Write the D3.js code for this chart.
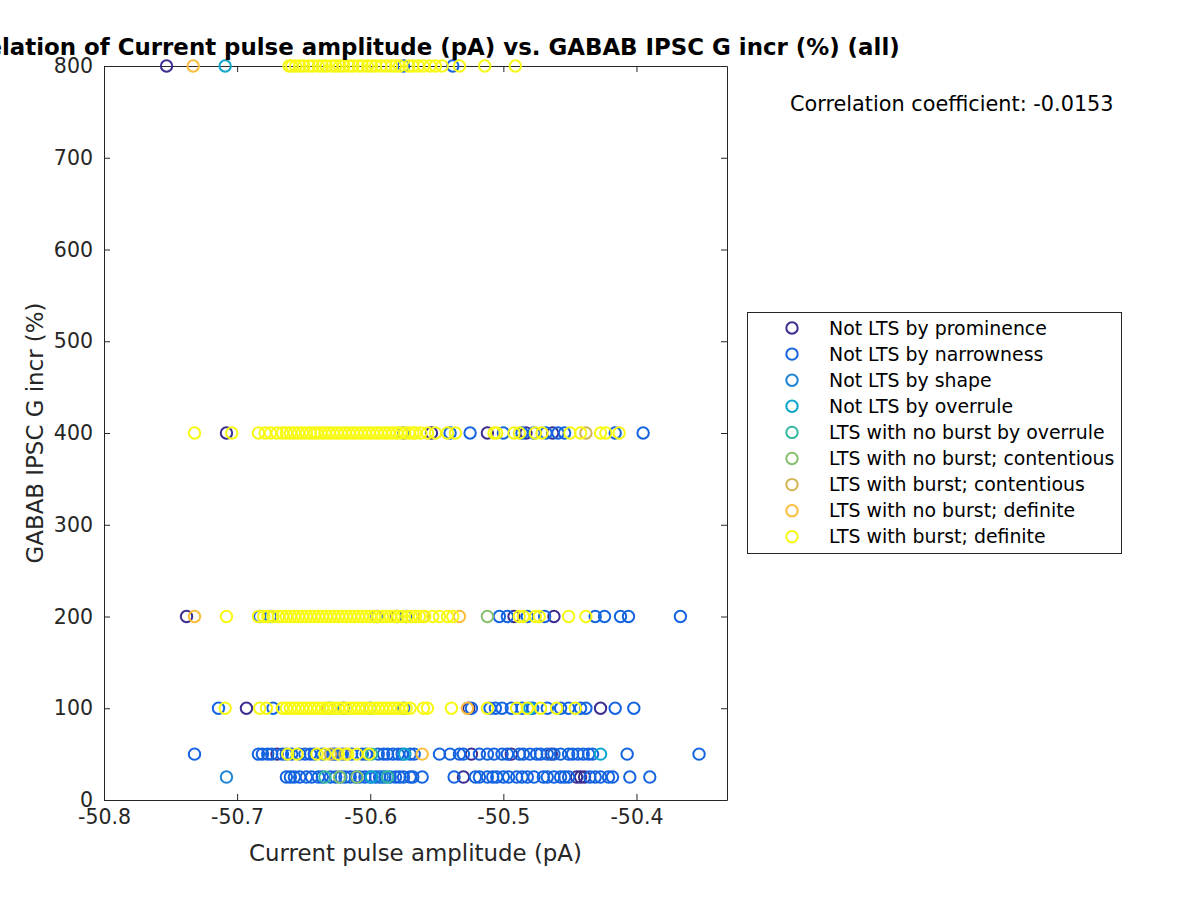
<!DOCTYPE html>
<html>
<head>
<meta charset="utf-8">
<script src="https://cdn.jsdelivr.net/npm/d3@7"></script>
<style>
  html, body { margin: 0; padding: 0; background: #fff; }
  svg { display: block; font-family: "DejaVu Sans", sans-serif; }
</style>
</head>
<body>
<svg id="chart" width="1200" height="900"></svg>
<script>
// ---------------- DATA ----------------
const titleText = "Correlation of Current pulse amplitude (pA) vs. GABAB IPSC G incr (%) (all)";
const xLabel = "Current pulse amplitude (pA)";
const yLabel = "GABAB IPSC G incr (%)";
const corrText = "Correlation coefficient: -0.0153";

const xTicks = [-50.8, -50.7, -50.6, -50.5, -50.4];
const yTicks = [0, 100, 200, 300, 400, 500, 600, 700, 800];
const xDomain = [-50.8, -50.332];
const yDomain = [0, 800];

const seriesNames = [
  "Not LTS by prominence",
  "Not LTS by narrowness",
  "Not LTS by shape",
  "Not LTS by overrule",
  "LTS with no burst by overrule",
  "LTS with no burst; contentious",
  "LTS with burst; contentious",
  "LTS with no burst; definite",
  "LTS with burst; definite"
];
const seriesColors = ["#3a2d90", "#1464e0", "#1d84d5", "#0ea6cc", "#33b79e", "#86bf6e", "#d2b455", "#fbbd3c", "#f7f914"];

// [x, y] pairs per series
const prominence = [
  [-50.753, 800],
  [-50.708, 400], [-50.554, 400], [-50.512, 400], [-50.483, 400], [-50.463, 400],
  [-50.738, 200], [-50.492, 200], [-50.462, 200], [-50.580, 200],
  [-50.693, 100], [-50.526, 100], [-50.427, 100],
  [-50.670, 50], [-50.524, 50], [-50.494, 50], [-50.464, 50],
  [-50.530, 25], [-50.445, 25], [-50.442, 25], [-50.439, 25]
];

const narrowness = [
  [-50.575, 800], [-50.538, 800],
  [-50.575, 400], [-50.540, 400], [-50.525, 400], [-50.500, 400], [-50.486, 400], [-50.477, 400],
  [-50.468, 400], [-50.459, 400], [-50.454, 400], [-50.416, 400], [-50.395, 400],
  [-50.683, 200], [-50.675, 200], [-50.595, 200], [-50.573, 200], [-50.503, 200], [-50.497, 200],
  [-50.482, 200], [-50.469, 200], [-50.431, 200], [-50.424, 200], [-50.412, 200], [-50.406, 200], [-50.367, 200],
  [-50.714, 100], [-50.673, 100], [-50.620, 100], [-50.600, 100], [-50.575, 100], [-50.524, 100], [-50.510, 100],
  [-50.506, 100], [-50.501, 100], [-50.494, 100], [-50.486, 100], [-50.478, 100], [-50.467, 100], [-50.457, 100],
  [-50.451, 100], [-50.442, 100], [-50.438, 100], [-50.416, 100], [-50.402, 100],
  [-50.732, 50], [-50.684, 50], [-50.681, 50], [-50.677, 50], [-50.674, 50], [-50.666, 50], [-50.663, 50],
  [-50.659, 50], [-50.653, 50], [-50.649, 50], [-50.645, 50], [-50.642, 50], [-50.636, 50], [-50.628, 50],
  [-50.626, 50], [-50.621, 50], [-50.614, 50], [-50.606, 50], [-50.603, 50], [-50.594, 50], [-50.590, 50],
  [-50.587, 50], [-50.583, 50], [-50.579, 50], [-50.576, 50], [-50.570, 50], [-50.567, 50], [-50.548, 50],
  [-50.540, 50], [-50.533, 50], [-50.530, 50], [-50.518, 50], [-50.512, 50], [-50.507, 50], [-50.501, 50],
  [-50.497, 50], [-50.488, 50], [-50.485, 50], [-50.480, 50], [-50.475, 50], [-50.472, 50], [-50.467, 50],
  [-50.462, 50], [-50.457, 50], [-50.451, 50], [-50.448, 50], [-50.444, 50], [-50.440, 50], [-50.436, 50],
  [-50.433, 50], [-50.407, 50], [-50.353, 50],
  [-50.663, 25], [-50.660, 25], [-50.657, 25], [-50.653, 25], [-50.648, 25], [-50.644, 25], [-50.639, 25],
  [-50.636, 25], [-50.630, 25], [-50.626, 25], [-50.619, 25], [-50.615, 25], [-50.611, 25], [-50.608, 25],
  [-50.604, 25], [-50.600, 25], [-50.596, 25], [-50.593, 25], [-50.589, 25], [-50.585, 25], [-50.581, 25],
  [-50.578, 25], [-50.575, 25], [-50.570, 25], [-50.568, 25], [-50.561, 25], [-50.537, 25], [-50.521, 25],
  [-50.518, 25], [-50.512, 25], [-50.508, 25], [-50.505, 25], [-50.500, 25], [-50.496, 25], [-50.490, 25],
  [-50.486, 25], [-50.482, 25], [-50.477, 25], [-50.470, 25], [-50.467, 25], [-50.462, 25], [-50.457, 25],
  [-50.454, 25], [-50.451, 25], [-50.435, 25], [-50.431, 25], [-50.427, 25], [-50.421, 25], [-50.418, 25],
  [-50.405, 25], [-50.390, 25]
];

const shape = [
  [-50.708, 25], [-50.622, 25], [-50.591, 25]
];

const notOverrule = [
  [-50.709, 800],
  [-50.480, 100],
  [-50.574, 50], [-50.427, 50],
  [-50.599, 25]
];

const ltsNoBurstOverrule = [
  [-50.630, 100],
  [-50.599, 50],
  [-50.634, 25], [-50.587, 25]
];

const ltsNoBurstContentious = [
  [-50.512, 200],
  [-50.623, 25], [-50.610, 25]
];

const ltsBurstContentious = [
  [-50.438, 400],
  [-50.560, 200],
  [-50.632, 100],
  [-50.630, 50], [-50.619, 50]
];

const ltsNoBurstDefinite = [
  [-50.733, 800],
  [-50.732, 200], [-50.533, 200],
  [-50.527, 100],
  [-50.561, 50]
];

const ltsBurstDefinite = [
  [-50.661, 800], [-50.659, 800], [-50.656, 800], [-50.653, 800], [-50.650, 800], [-50.646, 800], [-50.643, 800],
  [-50.639, 800], [-50.636, 800], [-50.633, 800], [-50.629, 800], [-50.626, 800], [-50.623, 800], [-50.620, 800],
  [-50.616, 800], [-50.613, 800], [-50.609, 800], [-50.606, 800], [-50.602, 800], [-50.599, 800], [-50.596, 800],
  [-50.592, 800], [-50.588, 800], [-50.584, 800], [-50.581, 800], [-50.578, 800], [-50.571, 800], [-50.568, 800],
  [-50.564, 800], [-50.560, 800], [-50.555, 800], [-50.551, 800], [-50.546, 800], [-50.533, 800], [-50.514, 800],
  [-50.491, 800],
  [-50.732, 400], [-50.704, 400],
  [-50.684, 400], [-50.679, 400], [-50.675, 400], [-50.670, 400], [-50.666, 400], [-50.663, 400], [-50.660, 400],
  [-50.657, 400], [-50.654, 400], [-50.651, 400], [-50.648, 400], [-50.645, 400], [-50.642, 400], [-50.640, 400],
  [-50.637, 400], [-50.634, 400], [-50.631, 400], [-50.628, 400], [-50.625, 400], [-50.622, 400], [-50.619, 400],
  [-50.616, 400], [-50.613, 400], [-50.610, 400], [-50.607, 400], [-50.604, 400], [-50.601, 400], [-50.598, 400],
  [-50.595, 400], [-50.592, 400], [-50.589, 400], [-50.586, 400], [-50.583, 400], [-50.580, 400], [-50.577, 400],
  [-50.574, 400], [-50.571, 400], [-50.568, 400], [-50.566, 400],
  [-50.562, 400], [-50.557, 400], [-50.551, 400], [-50.542, 400], [-50.536, 400], [-50.507, 400], [-50.505, 400],
  [-50.492, 400], [-50.488, 400], [-50.476, 400], [-50.471, 400], [-50.450, 400], [-50.442, 400], [-50.427, 400],
  [-50.423, 400], [-50.413, 400],
  [-50.708, 200],
  [-50.684, 200], [-50.680, 200], [-50.677, 200], [-50.673, 200], [-50.669, 200], [-50.666, 200], [-50.663, 200],
  [-50.660, 200], [-50.657, 200], [-50.654, 200], [-50.651, 200], [-50.648, 200], [-50.645, 200], [-50.642, 200],
  [-50.639, 200], [-50.636, 200], [-50.633, 200], [-50.630, 200], [-50.627, 200], [-50.624, 200], [-50.621, 200],
  [-50.618, 200], [-50.615, 200], [-50.612, 200], [-50.609, 200], [-50.606, 200], [-50.603, 200], [-50.600, 200],
  [-50.597, 200], [-50.594, 200], [-50.591, 200], [-50.588, 200], [-50.585, 200], [-50.582, 200], [-50.579, 200],
  [-50.576, 200], [-50.572, 200], [-50.569, 200], [-50.566, 200], [-50.563, 200],
  [-50.559, 200], [-50.553, 200], [-50.548, 200], [-50.542, 200], [-50.538, 200], [-50.488, 200], [-50.485, 200],
  [-50.476, 200], [-50.473, 200], [-50.451, 200], [-50.438, 200],
  [-50.709, 100], [-50.683, 100], [-50.678, 100], [-50.666, 100],
  [-50.663, 100], [-50.660, 100], [-50.657, 100], [-50.654, 100], [-50.651, 100], [-50.648, 100], [-50.645, 100],
  [-50.642, 100], [-50.639, 100], [-50.636, 100], [-50.633, 100], [-50.630, 100], [-50.627, 100], [-50.624, 100],
  [-50.621, 100], [-50.618, 100], [-50.615, 100], [-50.612, 100], [-50.609, 100], [-50.606, 100], [-50.603, 100],
  [-50.600, 100], [-50.597, 100], [-50.594, 100], [-50.591, 100], [-50.588, 100], [-50.585, 100], [-50.582, 100],
  [-50.579, 100], [-50.576, 100], [-50.573, 100], [-50.570, 100],
  [-50.560, 100], [-50.557, 100], [-50.539, 100], [-50.512, 100], [-50.490, 100], [-50.482, 100], [-50.472, 100],
  [-50.460, 100], [-50.446, 100],
  [-50.662, 50], [-50.655, 50], [-50.640, 50], [-50.634, 50], [-50.624, 50], [-50.617, 50], [-50.610, 50],
  [-50.601, 50]
];

const seriesData = [prominence, narrowness, shape, notOverrule, ltsNoBurstOverrule,
  ltsNoBurstContentious, ltsBurstContentious, ltsNoBurstDefinite, ltsBurstDefinite];

// ---------------- DRAW ----------------
const svg = d3.select("#chart");
const plot = { left: 104, right: 727, top: 66, bottom: 800 };
const x = d3.scaleLinear().domain(xDomain).range([plot.left, plot.right]);
const y = d3.scaleLinear().domain(yDomain).range([plot.bottom, plot.top]);
const axisColor = "#262626";
const markerR = 5.7;

function styleAxis(g) {
  g.selectAll("path.domain").attr("stroke", axisColor).attr("stroke-width", 1);
  g.selectAll(".tick line").attr("stroke", axisColor).attr("stroke-width", 1);
  g.selectAll(".tick text").attr("fill", axisColor).style("font-size", "20.5px")
    .style("font-family", "'DejaVu Sans', sans-serif");
}
const fmtX = d => d.toFixed(1);
svg.append("g").attr("transform", `translate(0,${plot.bottom})`)
  .call(d3.axisBottom(x).tickValues(xTicks).tickFormat(fmtX).tickSizeInner(-6).tickSizeOuter(0).tickPadding(9))
  .call(styleAxis);
svg.append("g").attr("transform", `translate(0,${plot.top})`)
  .call(d3.axisTop(x).tickValues(xTicks).tickFormat("").tickSizeInner(-6).tickSizeOuter(0))
  .call(styleAxis);
svg.append("g").attr("transform", `translate(${plot.left},0)`)
  .call(d3.axisLeft(y).tickValues(yTicks).tickFormat(d => d).tickSizeInner(-6).tickSizeOuter(0).tickPadding(11))
  .call(styleAxis);
svg.append("g").attr("transform", `translate(${plot.right},0)`)
  .call(d3.axisRight(y).tickValues(yTicks).tickFormat("").tickSizeInner(-6).tickSizeOuter(0))
  .call(styleAxis);

// markers drawn above the axes, series in order (later series on top)
const gPts = svg.append("g");
seriesData.forEach((pts, i) => {
  gPts.append("g").selectAll("circle").data(pts).enter().append("circle")
    .attr("cx", d => x(d[0]))
    .attr("cy", d => y(d[1]))
    .attr("r", markerR)
    .attr("fill", "none")
    .attr("stroke", seriesColors[i])
    .attr("stroke-width", 2);
});

// labels
svg.append("text").attr("x", (plot.left + plot.right) / 2).attr("y", 861)
  .attr("text-anchor", "middle").attr("fill", axisColor).style("font-size", "22.9px").text(xLabel);
svg.append("text").attr("transform", `translate(43,${(plot.top + plot.bottom) / 2}) rotate(-90)`)
  .attr("text-anchor", "middle").attr("fill", axisColor).style("font-size", "22.9px").text(yLabel);
svg.append("text").attr("x", (plot.left + plot.right) / 2).attr("y", 55)
  .attr("text-anchor", "middle").attr("fill", "#000").style("font-size", "22.9px").style("font-weight", "bold")
  .text(titleText);
svg.append("text").attr("x", 790).attr("y", 111).attr("fill", "#000").style("font-size", "20.8px").text(corrText);

// legend
const leg = svg.append("g");
leg.append("rect").attr("x", 747.5).attr("y", 312.5).attr("width", 374).attr("height", 241)
  .attr("fill", "#fff").attr("stroke", axisColor).attr("stroke-width", 1);
seriesNames.forEach((name, i) => {
  const cy = 328 + i * 26.1;
  leg.append("circle").attr("cx", 792).attr("cy", cy).attr("r", markerR)
    .attr("fill", "none").attr("stroke", seriesColors[i]).attr("stroke-width", 2);
  leg.append("text").attr("x", 829).attr("y", cy + 6.5).attr("fill", "#000").style("font-size", "18.9px").text(name);
});
</script>
</body>
</html>
